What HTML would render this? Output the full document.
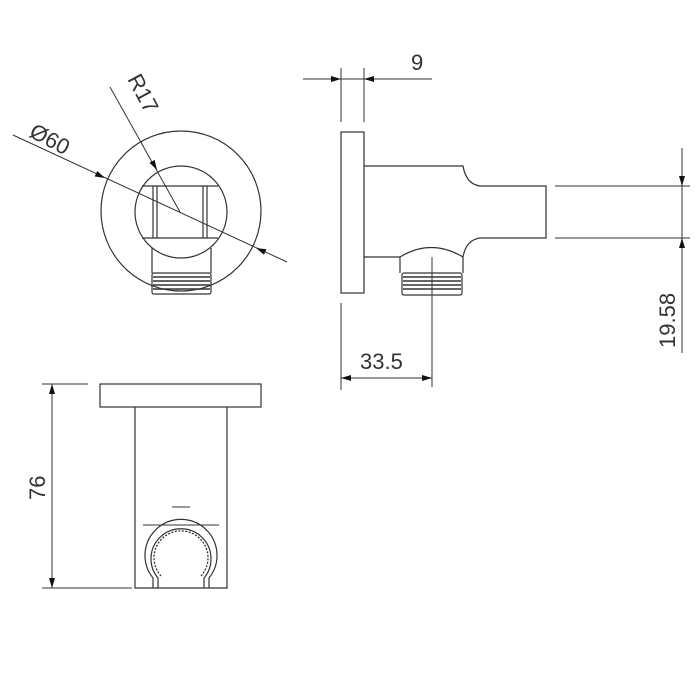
<!DOCTYPE html>
<html><head><meta charset="utf-8"><style>
html,body{margin:0;padding:0;background:#fff;}
svg{display:block;}
text{font-family:"Liberation Sans",sans-serif;fill:#333;}
</style></head><body>
<svg width="700" height="700" viewBox="0 0 700 700" xmlns="http://www.w3.org/2000/svg">
<defs>
<marker id="a" viewBox="0 0 10 6" refX="10" refY="3" markerWidth="13" markerHeight="6" markerUnits="userSpaceOnUse" orient="auto"><path d="M0,0 L10,3 L0,6z" fill="#111"/></marker>
</defs>
<g fill="none" stroke="#333" stroke-width="1.2">
<circle cx="181" cy="211" r="80"/>
<circle cx="181" cy="212" r="46"/>
<path d="M142,186 H218 M142,238 H218 M153,186 V238 M157,186 V238 M203,186 V238 M207,186 V238"/>
<path d="M152,248 V273 M211,248 V273"/>
<rect x="152" y="273" width="59" height="21" rx="2"/>
<path d="M153,277 H210 M153,281 H210 M153,285 H210 M153,289 H210" stroke-width="1.6"/>
<line x1="13" y1="135" x2="287" y2="262" stroke-width="1"/>
<path d="M60,157 L105,178" stroke-width="0" marker-end="url(#a)"/>
<path d="M290,263 L256,248" stroke-width="0" marker-end="url(#a)"/>
<line x1="110" y1="87" x2="180" y2="212" stroke-width="1"/>
<path d="M120,105 L157,170" stroke-width="0" marker-end="url(#a)"/>

<rect x="341" y="132" width="23" height="161"/>
<path d="M364,166 H463 Q466,184 480,186 H546 V238 H480 Q466,240 463,257 M364,257 H400"/>
<path d="M400,257 Q431,238 463,257 M400,257 V273 M463,257 V273"/>
<rect x="402" y="273" width="60" height="22" rx="2"/>
<path d="M403,277 H461 M403,281 H461 M403,285 H461 M403,289 H461" stroke-width="1.6"/>
<path d="M555,186 H690 M555,238 H690" stroke-width="1"/>
<line x1="682" y1="148" x2="682" y2="353" stroke-width="1"/>
<path d="M682,160 L682,186" stroke-width="0" marker-end="url(#a)"/>
<path d="M682,264 L682,238" stroke-width="0" marker-end="url(#a)"/>
<path d="M341,68 V122 M364,68 V122" stroke-width="1"/>
<line x1="303" y1="79" x2="432" y2="79" stroke-width="1"/>
<path d="M315,79 L341,79" stroke-width="0" marker-end="url(#a)"/>
<path d="M390,79 L364,79" stroke-width="0" marker-end="url(#a)"/>
<path d="M341,303 V390 M432,257 V387" stroke-width="1"/>
<line x1="341" y1="378" x2="432" y2="378" stroke-width="1"/>
<path d="M365,378 L341,378" stroke-width="0" marker-end="url(#a)"/>
<path d="M408,378 L432,378" stroke-width="0" marker-end="url(#a)"/>

<rect x="100" y="384" width="161" height="23"/>
<path d="M135,407 V588 H227 V407"/>
<path d="M172,507 H190 M143,525 H219" stroke-width="1"/>
<path d="M153,588 V578 A36,36 0 1 1 209,578 V588 M158,588 V578 A30,30 0 1 1 204,578 V588"/>
<path d="M161,576 A27,27 0 1 1 201,576" stroke-dasharray="2 1.5" stroke-width="1.3"/>
<path d="M42,384 H88 M42,588 H132" stroke-width="1"/>
<line x1="52" y1="384" x2="52" y2="588" stroke-width="1"/>
<path d="M52,410 L52,384" stroke-width="0" marker-end="url(#a)"/>
<path d="M52,562 L52,588" stroke-width="0" marker-end="url(#a)"/>
</g>
<g font-size="22">
<text x="0" y="0" transform="translate(28,136) rotate(28)">Ø60</text>
<text x="0" y="0" transform="translate(127,79) rotate(62)">R17</text>
<text x="411" y="70">9</text>
<text x="360" y="369">33.5</text>
<text x="0" y="0" transform="translate(675,348) rotate(-90)">19.58</text>
<text x="0" y="0" transform="translate(45,500) rotate(-90)">76</text>
</g>
</svg>
</body></html>
